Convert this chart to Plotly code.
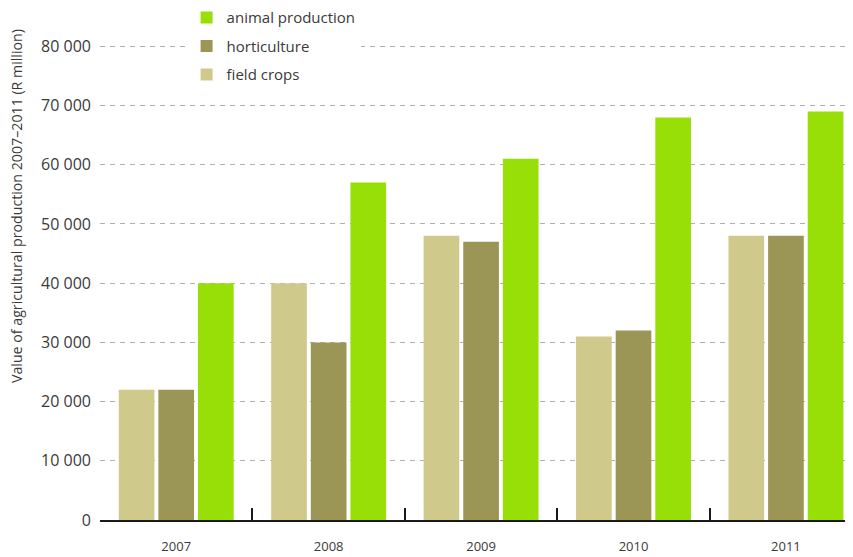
import plotly.graph_objects as go

years = ["2007", "2008", "2009", "2010", "2011"]
field_crops = [22000, 40000, 48000, 31000, 48000]
horticulture = [22000, 30000, 47000, 32000, 48000]
animal_production = [40000, 57000, 61000, 68000, 69000]

y_ticks = [0, 10000, 20000, 30000, 40000, 50000, 60000, 70000, 80000]

font_family = "Open Sans, Lato, sans-serif"
text_color = "#3a3a3a"

fig = go.Figure()

# series, drawn left to right inside each year; legendrank puts animal production on top
fig.add_trace(go.Bar(x=years, y=field_crops, name="field crops",
                     marker_color="#cfc98b", marker_line_width=0,
                     legendgroup="fc", legendrank=3))
fig.add_trace(go.Bar(x=years, y=horticulture, name="horticulture",
                     marker_color="#9b9656", marker_line_width=0,
                     legendgroup="ho", legendrank=2))
fig.add_trace(go.Bar(x=years, y=animal_production, name="animal production",
                     marker_color="#97df07", marker_line_width=0,
                     legendgroup="ap", legendrank=1))

# page body adds 8px around the figure, so the figure is 8px smaller
fig.update_layout(
    width=845,
    height=549,
    margin=dict(l=92, r=0, t=36, b=37, autoexpand=False),
    plot_bgcolor="white",
    paper_bgcolor="white",
    barmode="group",
    bargap=0.22,
    bargroupgap=0.1,
    separators=". ",
    font=dict(family=font_family, size=13, color=text_color),
    legend=dict(
        x=0.115, y=1.09, xanchor="left", yanchor="top",
        traceorder="grouped", tracegroupgap=6,
        bgcolor="white", borderwidth=0,
        font=dict(size=15, color=text_color),
        itemwidth=30,
    ),
    xaxis=dict(
        type="category",
        range=[-0.5, 4.44],
        showgrid=False,
        showline=True, linecolor="#1a1a1a", linewidth=2,
        ticks="inside", tickson="boundaries", ticklen=12, tickwidth=2,
        tickcolor="#1a1a1a",
        ticklabelstandoff=13,
        tickfont=dict(size=13, color=text_color),
    ),
    yaxis=dict(
        range=[0, 80400],
        tickvals=y_ticks,
        tickformat=",d",
        showgrid=True, gridcolor="#b0b0b0", gridwidth=1, griddash="5px,5px",
        zeroline=False,
        showline=False,
        ticks="",
        ticklabelstandoff=8,
        tickfont=dict(size=16, color=text_color),
    ),
)

fig.add_annotation(
    text="Value of agricultural production 2007–2011 (R million)",
    textangle=-90,
    xref="paper", yref="paper",
    x=-0.11, y=0.66,
    xanchor="center", yanchor="middle",
    showarrow=False,
    font=dict(size=14.2, color=text_color),
)

fig.write_html("out.html")
